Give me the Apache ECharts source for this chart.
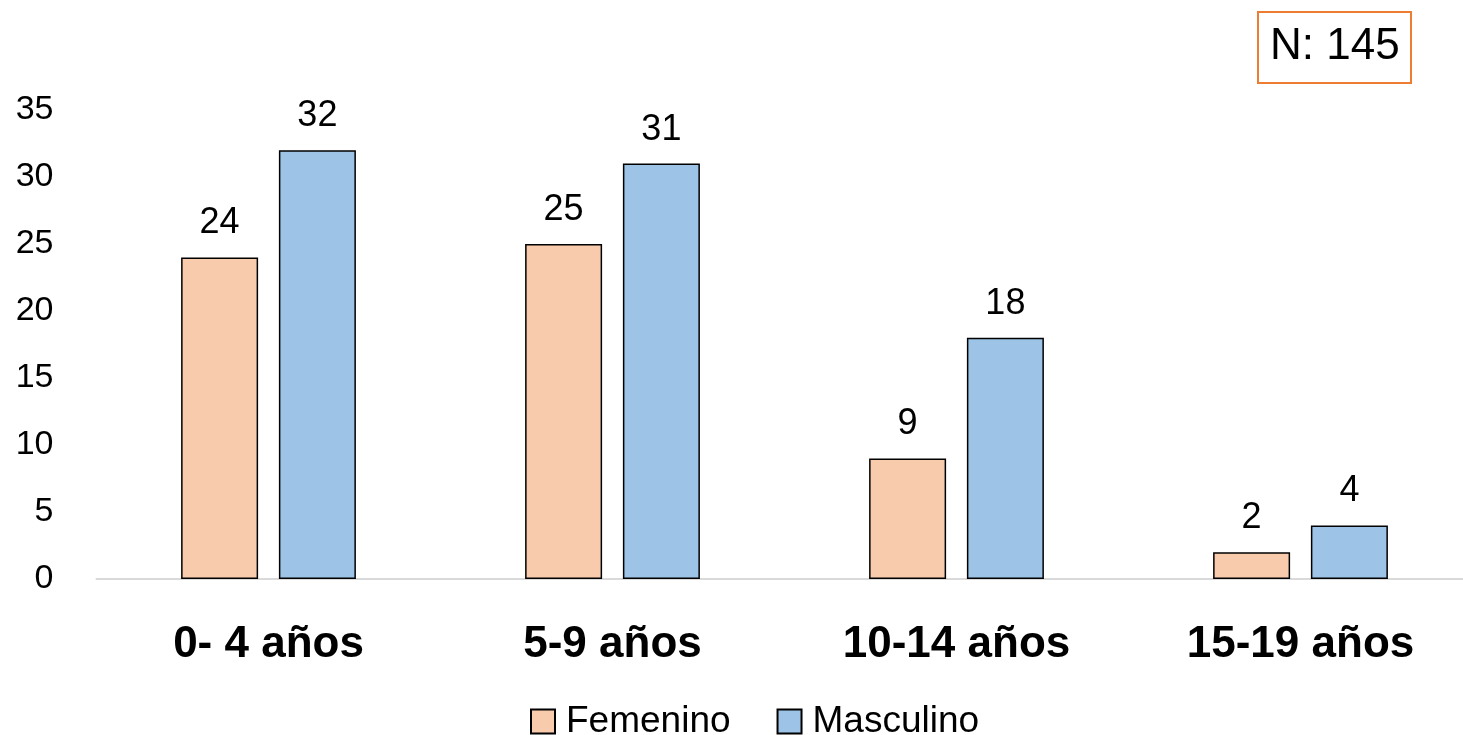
<!DOCTYPE html>
<html>
<head>
<meta charset="utf-8">
<script src="https://cdn.jsdelivr.net/npm/echarts@6/dist/echarts.min.js"></script>
<style>
html,body{margin:0;padding:0;background:#fff;}
#chart{width:1463px;height:735px;}
</style>
</head>
<body>
<div id="chart"></div>
<script>
const categories = ['0- 4 años', '5-9 años', '10-14 años', '15-19 años'];
const femenino = [24, 25, 9, 2];
const masculino = [32, 31, 18, 4];
const seriesNames = ['Femenino', 'Masculino'];
const noteText = 'N: 145';

const FONT = '"Liberation Sans", Arial, sans-serif';
const chart = echarts.init(document.getElementById('chart'), null, {renderer: 'canvas'});
chart.setOption({
  backgroundColor: '#ffffff',
  animation: false,
  title: {
    text: noteText,
    left: 1258,
    top: 12,
    padding: [13, 12, 14, 12],
    borderColor: '#ED7D31',
    borderWidth: 2,
    textStyle: {fontFamily: FONT, fontSize: 44, fontWeight: 'normal', color: '#000'}
  },
  legend: {
    data: seriesNames,
    left: 525,
    top: 698,
    itemWidth: 24,
    itemHeight: 24,
    itemGap: 46,
    icon: 'rect',
    textStyle: {fontFamily: FONT, fontSize: 37, color: '#000', padding: [0, 0, 0, 6]}
  },
  grid: {left: 96.5, top: 110, width: 1376, height: 469, containLabel: false, outerBoundsMode: 'none'},
  xAxis: {
    type: 'category',
    data: categories,
    axisTick: {show: false},
    axisLine: {lineStyle: {color: '#D9D9D9', width: 2}},
    axisLabel: {fontFamily: FONT, fontSize: 44, fontWeight: 'bold', color: '#000', margin: 44}
  },
  yAxis: {
    type: 'value',
    min: 0, max: 35, interval: 5,
    splitLine: {show: false},
    axisLine: {show: false},
    axisTick: {show: false},
    axisLabel: {fontFamily: FONT, fontSize: 34, color: '#000', margin: 43}
  },
  series: [
    {
      name: seriesNames[0], type: 'bar', data: femenino,
      barWidth: 77, barGap: '27%',
      itemStyle: {color: '#F8CBAD', borderColor: '#000', borderWidth: 1.5},
      label: {show: true, position: 'top', distance: 16, fontFamily: FONT, fontSize: 36, color: '#000'}
    },
    {
      name: seriesNames[1], type: 'bar', data: masculino,
      barWidth: 77, barGap: '27%',
      itemStyle: {color: '#9DC3E6', borderColor: '#000', borderWidth: 1.5},
      label: {show: true, position: 'top', distance: 16, fontFamily: FONT, fontSize: 36, color: '#000'}
    }
  ]
});
</script>
</body>
</html>
